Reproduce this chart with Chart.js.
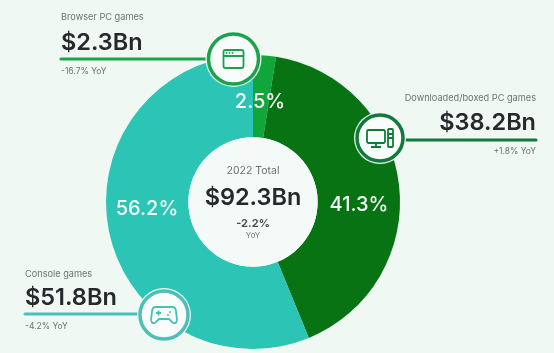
<!DOCTYPE html>
<html>
<head>
<meta charset="utf-8">
<style>
  html, body { margin: 0; padding: 0; background: #eff8f3; }
  #wrap { position: relative; width: 554px; height: 353px; }
</style>
<script src="https://cdn.jsdelivr.net/npm/chart.js@4/dist/chart.umd.min.js"></script>
</head>
<body>
<div id="wrap"><canvas id="chart" width="554" height="353"></canvas></div>
<script>
// Values
const categories = ['Browser PC games', 'Downloaded/boxed PC games', 'Console games'];
const shares = [2.5, 41.3, 56.2];
const revenues = ['$2.3Bn', '$38.2Bn', '$51.8Bn'];
const changes = ['-16.7% YoY', '+1.8% YoY', '-4.2% YoY'];
const totalTitle = '2022 Total';
const totalRevenue = '$92.3Bn';
const totalChange = '-2.2%';
const totalChangeUnit = 'YoY';

const sliceColors = ['#10a63c', '#077313', '#2cc4b4'];
const ringColors = ['#1ba34c', '#107a3a', '#4cc0b6'];
const BG = '#eff8f3';
const INK = '#26292c';
const GREY = '#6c7270';
const FONT = 'Inter, "Noto Sans", sans-serif';

// Where each callout sits: line, icon badge, and text rows
const callouts = [
    { align: 'left', x: 61, lineFrom: 61, lineTo: 212, lineY: 59, cx: 233.5, cy: 59, r: 25, labelY: 17, valueY: 43, changeY: 71, icon: drawBrowserIcon },
    { align: 'right', x: 536, lineFrom: 400, lineTo: 536, lineY: 140, cx: 380, cy: 138, r: 23, labelY: 98, valueY: 123, changeY: 151, icon: drawPcIcon },
    { align: 'left', x: 25, lineFrom: 25, lineTo: 142, lineY: 314, cx: 164, cy: 315, r: 24, labelY: 274, valueY: 298, changeY: 326, icon: drawPadIcon }
];
const shareLabelPos = [[260, 102], [359, 205], [147, 209]];

function text(ctx, str, x, y, font, color, align) {
    ctx.font = font;
    ctx.fillStyle = color;
    ctx.textAlign = align || 'center';
    ctx.textBaseline = 'middle';
    ctx.fillText(str, x, y);
}

function drawBrowserIcon(ctx, x, y) {
    ctx.beginPath();
    ctx.roundRect(x - 10, y - 9, 20, 18, 2);
    ctx.moveTo(x - 10, y - 3);
    ctx.lineTo(x + 10, y - 3);
    ctx.stroke();
    [-7, -4, -1].forEach(dx => {
        ctx.beginPath();
        ctx.arc(x + dx, y - 6, 0.9, 0, Math.PI * 2);
        ctx.fill();
    });
}

function drawPcIcon(ctx, x, y) {
    ctx.beginPath();
    ctx.roundRect(x - 13, y - 8, 18, 13, 1.5);
    ctx.moveTo(x - 4, y + 5);
    ctx.lineTo(x - 4, y + 9);
    ctx.moveTo(x - 9, y + 9);
    ctx.lineTo(x + 1, y + 9);
    ctx.roundRect(x + 8, y - 9, 5, 18, 1);
    ctx.moveTo(x + 8, y - 4);
    ctx.lineTo(x + 13, y - 4);
    ctx.moveTo(x + 8, y);
    ctx.lineTo(x + 13, y);
    ctx.stroke();
}

function drawPadIcon(ctx, x, y) {
    ctx.beginPath();
    ctx.moveTo(x - 8, y - 8);
    ctx.lineTo(x + 8, y - 8);
    ctx.quadraticCurveTo(x + 12, y - 8, x + 12, y - 3);
    ctx.lineTo(x + 13, y + 4);
    ctx.quadraticCurveTo(x + 13, y + 9, x + 9, y + 8);
    ctx.lineTo(x + 5, y + 4);
    ctx.lineTo(x - 5, y + 4);
    ctx.lineTo(x - 9, y + 8);
    ctx.quadraticCurveTo(x - 13, y + 9, x - 13, y + 4);
    ctx.lineTo(x - 12, y - 3);
    ctx.quadraticCurveTo(x - 12, y - 8, x - 8, y - 8);
    ctx.moveTo(x - 8, y - 2);
    ctx.lineTo(x - 3, y - 2);
    ctx.moveTo(x - 5.5, y - 4.5);
    ctx.lineTo(x - 5.5, y + 0.5);
    ctx.stroke();
    ctx.beginPath();
    ctx.arc(x + 6, y - 3, 1, 0, Math.PI * 2);
    ctx.arc(x + 4, y, 1, 0, Math.PI * 2);
    ctx.fill();
}

// Everything that is not a slice: callouts, share labels and the centre text
const overlayPlugin = {
    id: 'overlay',
    afterDatasetsDraw(chart) {
        const ctx = chart.ctx;
        const arc = chart.getDatasetMeta(0).data[0];

        ctx.save();
        ctx.beginPath();
        ctx.arc(arc.x, arc.y, arc.innerRadius, 0, Math.PI * 2);
        ctx.fillStyle = '#f3faf7';
        ctx.fill();

        shares.forEach((v, i) => {
            const pos = shareLabelPos[i];
            text(ctx, v.toFixed(1) + '%', pos[0], pos[1], '500 20px ' + FONT, '#f4fbf8');
        });

        text(ctx, totalTitle, arc.x, 171, '400 10.5px ' + FONT, GREY);
        text(ctx, totalRevenue, arc.x, 198, '600 23.5px ' + FONT, INK);
        text(ctx, totalChange, arc.x, 224, '700 11px ' + FONT, '#4b5150');
        text(ctx, totalChangeUnit, arc.x, 236, '400 8px ' + FONT, GREY);

        callouts.forEach((c, i) => {
            ctx.strokeStyle = ringColors[i];
            ctx.lineWidth = 3;
            ctx.lineCap = 'round';
            ctx.beginPath();
            ctx.moveTo(c.lineFrom, c.lineY);
            ctx.lineTo(c.lineTo, c.lineY);
            ctx.stroke();

            ctx.beginPath();
            ctx.arc(c.cx, c.cy, c.r + 3, 0, Math.PI * 2);
            ctx.fillStyle = BG;
            ctx.fill();
            ctx.beginPath();
            ctx.arc(c.cx, c.cy, c.r, 0, Math.PI * 2);
            ctx.fillStyle = '#f8fcfa';
            ctx.fill();
            ctx.lineWidth = 3.5;
            ctx.stroke();

            ctx.lineWidth = 1.8;
            ctx.fillStyle = ringColors[i];
            ctx.lineCap = 'butt';
            c.icon(ctx, c.cx, c.cy);

            text(ctx, categories[i], c.x, c.labelY, '400 9.2px ' + FONT, GREY, c.align);
            text(ctx, revenues[i], c.x, c.valueY, '600 23.5px ' + FONT, INK, c.align);
            text(ctx, changes[i], c.x, c.changeY, '400 8.5px ' + FONT, GREY, c.align);
        });
        ctx.restore();
    }
};

new Chart(document.getElementById('chart').getContext('2d'), {
    type: 'doughnut',
    data: {
        labels: categories,
        datasets: [{
            data: shares,
            backgroundColor: sliceColors,
            borderWidth: 0
        }]
    },
    options: {
        responsive: false,
        animation: false,
        cutout: '44%',
        layout: { padding: { left: 106, right: 154, top: 55, bottom: 4 } },
        plugins: {
            legend: { display: false },
            tooltip: { enabled: false }
        }
    },
    plugins: [overlayPlugin]
});
</script>
</body>
</html>
